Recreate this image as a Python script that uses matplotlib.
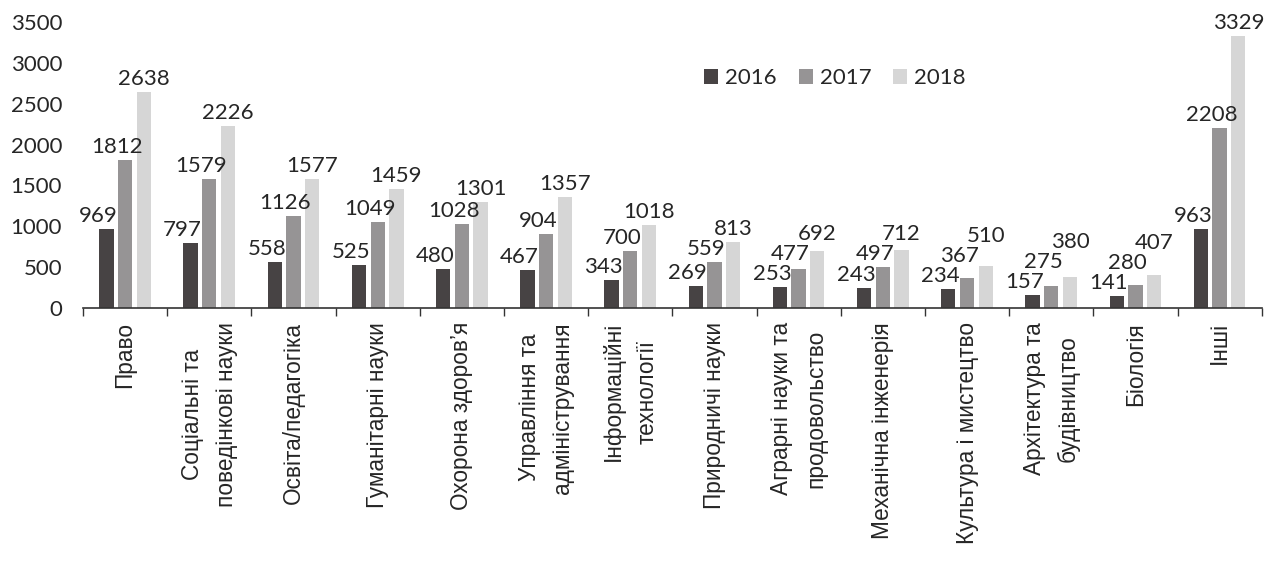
import matplotlib
matplotlib.use("Agg")
import matplotlib.pyplot as plt
import numpy as np

categories = [
    "Право",
    "Соціальні та\nповедінкові науки",
    "Освіта/педагогіка",
    "Гуманітарні науки",
    "Охорона здоров’я",
    "Управління та\nадміністрування",
    "Інформаційні\nтехнології",
    "Природничі науки",
    "Аграрні науки та\nпродовольство",
    "Механічна інженерія",
    "Культура і мистецтво",
    "Архітектура та\nбудівництво",
    "Біологія",
    "Інші",
]
series_names = ["2016", "2017", "2018"]
v2016 = [969, 797, 558, 525, 480, 467, 343, 269, 253, 243, 234, 157, 141, 963]
v2017 = [1812, 1579, 1126, 1049, 1028, 904, 700, 559, 477, 497, 367, 275, 280, 2208]
v2018 = [2638, 2226, 1577, 1459, 1301, 1357, 1018, 813, 692, 712, 510, 380, 407, 3329]
yticks = [0, 500, 1000, 1500, 2000, 2500, 3000, 3500]

colors = ["#474344", "#969495", "#d6d6d6"]
text_color = "#262626"
num_font = "Lato"
cat_font = "Liberation Sans"

W, H, DPI = 12.65, 5.64, 100
fig = plt.figure(figsize=(W, H), dpi=DPI)
ax_rect = [0.0656, 0.4539, 0.9318, 0.5071]
ax = fig.add_axes(ax_rect)

ymax = 3500
units_per_px = ymax / (ax_rect[3] * H * DPI)
gap = 7 * units_per_px        # space between bar top and label baseline
min_sep = 20 * units_per_px   # min vertical distance between stacked labels
label_shift_px = [-8, -8, 0]  # horizontal label shift per series

x = np.arange(len(categories))
width = 0.17
step = 0.222
all_vals = [v2016, v2017, v2018]
for i, (vals, name, c) in enumerate(zip(all_vals, series_names, colors)):
    ax.bar(x + (i - 1) * step, vals, width=width, color=c, label=name, zorder=2)

for g in range(len(categories)):
    prev = -1e9
    for i in range(3):
        v = all_vals[i][g]
        y = max(v + gap, prev + min_sep)
        prev = y
        ax.annotate(str(v), (x[g] + (i - 1) * step, y),
                    xytext=(label_shift_px[i] * 72 / DPI, 0), textcoords="offset points",
                    ha="center", va="baseline", fontsize=16, family=num_font,
                    color=text_color)

ax.set_xlim(-0.5, len(categories) - 0.5)
ax.set_ylim(0, ymax)
ax.set_yticks(yticks)
ax.set_yticklabels([str(t) for t in yticks], family=num_font, fontsize=16, color=text_color)
ax.tick_params(axis="y", length=0, pad=15)

for s in ["top", "right", "left"]:
    ax.spines[s].set_visible(False)
ax.spines["bottom"].set_color("#333333")
ax.spines["bottom"].set_linewidth(1.2)

# category boundary ticks
ax.set_xticks(np.arange(-0.5, len(categories) + 0.5, 1.0))
ax.set_xticklabels([])
ax.tick_params(axis="x", length=6, width=1.0, color="#333333", direction="out")

for xi, lab in zip(x, categories):
    ax.annotate(lab, (xi, 0), xytext=(0, -10), textcoords="offset points",
                rotation=90, ha="center", va="top", multialignment="center",
                linespacing=1.6, fontsize=16.3, family=cat_font, color=text_color,
                annotation_clip=False)

leg = ax.legend(loc="center", bbox_to_anchor=(0.638, 0.804), ncol=3, frameon=False,
                prop={"family": num_font, "size": 16}, handlelength=0.63,
                handleheight=0.63, columnspacing=1.0, handletextpad=0.3)
for t in leg.get_texts():
    t.set_color(text_color)

fig.savefig("out.png", dpi=DPI)
